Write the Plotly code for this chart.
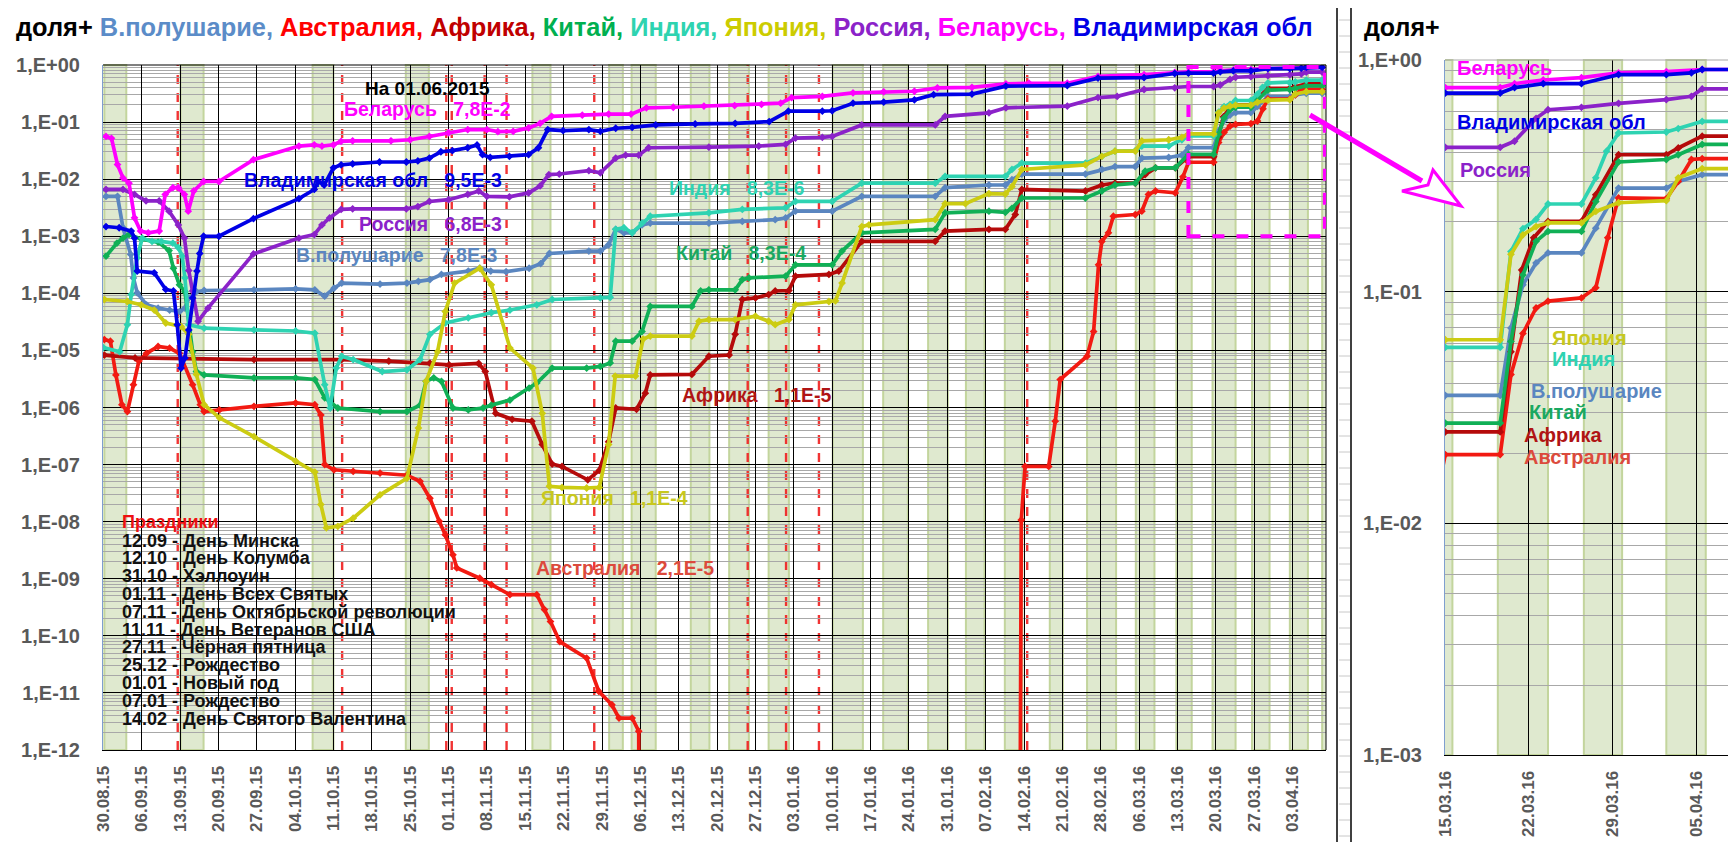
import pandas as pd
import plotly.graph_objects as go

START = "2015-08-30"   # day 0 of the series below

# ---- data: (days since 30.08.2015, share "доля+") ----
WH = [(0.5,5.0e-3),(2.6,5.0e-3),(3.6,1.41e-3),(5.0,4.8e-4),(5.5,1.86e-4),(6.2,1.02e-4),(7.9,6.3e-5),(10.0,5.5e-5),(12.1,5.1e-5),(13.9,4.8e-5),
      (14.9,5.5e-5),(15.6,8.3e-5),(17.0,1.07e-4),(18.4,1.12e-4),(27.5,1.15e-4),(35.1,1.20e-4),(38.6,1.15e-4),(40.4,8.9e-5),(42.1,1.23e-4),(43.5,1.51e-4),
      (50.5,1.45e-4),(55.4,1.51e-4),(57.5,1.62e-4),(59.6,1.74e-4),(61.7,2.14e-4),(66.6,2.45e-4),(68.7,2.75e-4),(70.7,2.45e-4),(73.5,2.40e-4),(77.7,2.75e-4),
      (79.8,3.31e-4),(81.4,5.0e-4),(88.6,5.5e-4),(90.7,5.5e-4),(92.2,7.1e-4),(93.5,1.32e-3),(95.0,1.15e-3),(96.5,1.15e-3),(98.3,1.58e-3),(99.8,1.70e-3),
      (110.5,1.70e-3),(116.6,1.82e-3),(122.6,1.95e-3),(124.5,2.09e-3),(126.3,2.75e-3),(133.0,2.75e-3),(138.4,5.0e-3),(151.8,5.0e-3),(153.6,7.1e-3),(161.6,7.9e-3),
      (164.6,7.9e-3),(165.8,9.8e-3),(167.6,1.23e-2),(179.2,1.23e-2),(182.2,1.48e-2),(184.6,1.66e-2),(188.3,1.66e-2),(189.5,2.34e-2),(194.4,2.40e-2),(196.8,2.63e-2),
      (198.0,3.57e-2),(202.6,3.57e-2),(203.5,6.97e-2),(204.5,1.07e-1),(205.6,1.33e-1),(206.6,1.47e-1),(209.4,1.47e-1),(210.6,1.88e-1),(212.5,2.80e-1),(216.5,2.80e-1),
      (217.5,2.99e-1),(219.5,3.20e-1),(222.4,3.20e-1)]

AU = [(0.2,1.55e-5),(1.3,1.45e-5),(2.3,3.72e-6),(3.4,1.12e-6),(4.4,8.5e-7),(5.5,2.51e-6),(6.5,6.5e-6),(7.9,8.9e-6),(10.0,1.17e-5),(12.1,1.10e-5),
      (13.9,8.9e-6),(16.3,2.51e-6),(17.7,1.12e-6),(18.4,8.5e-7),(21.2,9.1e-7),(27.5,1.05e-6),(35.1,1.20e-6),(38.6,1.12e-6),(39.7,7.4e-7),(40.4,1.0e-7),
      (42.1,8.1e-8),(45.6,7.6e-8),(50.5,7.1e-8),(55.4,6.5e-8),(57.8,5.1e-8),(59.6,2.57e-8),(61.3,1.02e-8),(62.4,5.9e-9),(63.8,2.63e-9),(64.5,1.55e-9),
      (68.7,1.02e-9),(70.8,7.9e-10),(74.2,5.25e-10),(79.1,5.25e-10),(80.5,2.88e-10),(81.6,1.78e-10),(83.3,7.9e-11),(88.2,4.07e-11),(90.4,1.07e-11),(92.8,6.2e-12),
      (94.1,3.63e-12),(96.5,3.63e-12),(97.7,2.14e-12),(97.9,1e-20),(167.0,1e-20),(167.5,1.07e-8),(168.2,9.3e-8),(172.5,9.3e-8),(173.7,5.75e-7),(174.6,3.09e-6),
      (179.5,7.9e-6),(180.7,2.14e-5),(181.6,3.16e-4),(182.2,8.1e-4),(183.4,1.15e-3),(184.3,2.24e-3),(188.3,2.40e-3),(189.5,2.75e-3),(190.7,5.4e-3),(192.0,6.2e-3),
      (195.6,5.75e-3),(197.0,1.1e-2),(198.0,1.98e-2),(202.6,1.98e-2),(203.5,4.39e-2),(204.5,6.6e-2),(205.6,8.5e-2),(206.6,9.1e-2),(209.4,9.4e-2),(210.6,1.04e-1),
      (211.6,1.71e-1),(212.5,2.54e-1),(216.5,2.52e-1),(217.5,2.99e-1),(218.6,3.72e-1),(219.5,3.75e-1),(222.4,3.75e-1)]

AF = [(0.2,8.3e-6),(5.8,7.4e-6),(27.5,6.9e-6),(43.5,6.9e-6),(52.1,6.5e-6),(59.6,6.0e-6),(63.1,5.6e-6),(68.5,5.9e-6),(69.7,4.27e-6),(71.6,7.9e-7),
      (74.6,6.2e-7),(78.2,5.75e-7),(80.1,2.24e-7),(81.9,1.02e-7),(83.7,9.3e-8),(88.4,5.4e-8),(90.5,7.9e-8),(92.2,2.51e-7),(93.5,9.8e-7),(97.3,9.3e-7),
      (98.9,1.78e-6),(99.8,3.72e-6),(107.4,3.80e-6),(110.5,7.9e-6),(114.2,8.3e-6),(115.3,1.91e-5),(116.6,7.8e-5),(119.0,8.3e-5),(121.4,9.5e-5),(122.6,1.10e-4),
      (125.1,1.12e-4),(126.3,2.0e-4),(132.4,2.14e-4),(134.2,2.45e-4),(138.4,8.1e-4),(151.8,8.1e-4),(153.6,1.23e-3),(161.6,1.32e-3),(164.6,1.32e-3),(166.4,2.40e-3),
      (167.6,6.6e-3),(179.2,6.2e-3),(182.2,7.9e-3),(184.6,8.5e-3),(188.3,8.5e-3),(190.1,1.20e-2),(192.0,1.58e-2),(195.6,1.58e-2),(198.0,2.48e-2),(202.6,2.48e-2),
      (203.5,5.5e-2),(204.4,1.24e-1),(205.4,1.71e-1),(206.6,2.01e-1),(209.4,2.01e-1),(210.6,2.62e-1),(212.5,3.90e-1),(216.5,3.90e-1),(217.5,4.17e-1),(219.5,4.69e-1),
      (222.4,4.69e-1)]

CN = [(0.5,4.47e-4),(2.5,7.6e-4),(3.6,9.3e-4),(4.7,1.07e-3),(7.0,8.9e-4),(10.0,7.9e-4),(12.0,5.6e-4),(12.8,2.75e-4),(13.9,1.41e-4),(14.9,1.07e-4),
      (16.3,9.5e-6),(17.0,4.27e-6),(18.4,3.72e-6),(27.5,3.31e-6),(35.1,3.31e-6),(38.6,3.09e-6),(40.4,1.48e-6),(42.8,9.8e-7),(50.5,8.5e-7),(55.4,8.5e-7),
      (57.8,1.10e-6),(58.9,2.88e-6),(60.3,3.31e-6),(61.7,2.88e-6),(63.8,9.8e-7),(66.6,9.1e-7),(69.3,9.8e-7),(70.8,1.10e-6),(74.2,1.35e-6),(77.7,2.19e-6),
      (79.1,2.69e-6),(81.9,4.9e-6),(88.2,4.9e-6),(90.7,5.25e-6),(92.5,6.03e-6),(93.5,1.45e-5),(96.5,1.45e-5),(98.3,2.14e-5),(99.8,5.9e-5),(107.4,5.9e-5),
      (109.0,1.10e-4),(110.5,1.15e-4),(115.3,1.15e-4),(116.6,1.74e-4),(117.8,1.86e-4),(124.5,2.0e-4),(126.3,3.16e-4),(133.0,3.16e-4),(134.8,5.5e-4),(138.4,1.15e-3),
      (151.8,1.32e-3),(153.6,2.57e-3),(161.6,2.75e-3),(164.6,2.63e-3),(165.8,3.09e-3),(167.6,4.68e-3),(179.2,4.68e-3),(182.2,6.2e-3),(184.6,7.9e-3),(188.3,8.5e-3),
      (190.1,1.38e-2),(192.0,1.58e-2),(195.6,1.58e-2),(198.0,2.71e-2),(202.6,2.71e-2),(203.5,6.1e-2),(204.5,1.18e-1),(205.6,1.65e-1),(206.6,1.82e-1),(209.4,1.82e-1),
      (210.6,2.45e-1),(212.5,3.63e-1),(216.5,3.72e-1),(217.5,3.90e-1),(219.5,4.32e-1),(222.4,4.32e-1)]

IN = [(0.0,1.12e-5),(3.0,9.5e-6),(4.4,2.82e-5),(5.1,9.5e-5),(6.2,4.17e-4),(7.1,9.3e-4),(8.9,8.1e-4),(10.6,8.1e-4),(12.7,7.6e-4),(13.7,6.3e-4),
      (14.4,4.47e-4),(14.9,1.86e-4),(15.6,2.82e-5),(18.4,2.45e-5),(27.5,2.29e-5),(35.1,2.19e-5),(38.6,2.0e-5),(40.4,2.51e-6),(41.4,9.8e-7),(42.5,4.9e-6),
      (43.5,7.9e-6),(45.6,6.9e-6),(50.9,4.27e-6),(55.4,4.57e-6),(57.8,6.9e-6),(59.6,1.91e-5),(62.4,3.02e-5),(66.6,3.72e-5),(70.8,4.57e-5),(74.2,5.1e-5),
      (79.1,6.3e-5),(81.9,7.8e-5),(90.7,8.3e-5),(92.5,8.5e-5),(93.5,1.32e-3),(95.0,1.41e-3),(96.5,1.15e-3),(98.3,1.70e-3),(99.8,2.24e-3),(110.5,2.57e-3),
      (116.6,2.95e-3),(124.5,3.16e-3),(126.3,4.07e-3),(133.0,4.07e-3),(138.4,8.5e-3),(151.8,8.5e-3),(153.6,1.12e-2),(164.6,1.12e-2),(165.8,1.48e-2),(167.6,1.91e-2),
      (179.2,1.91e-2),(182.2,2.51e-2),(184.6,3.09e-2),(188.3,3.16e-2),(189.5,3.80e-2),(194.4,3.80e-2),(196.8,4.9e-2),(198.0,5.75e-2),(202.6,5.75e-2),(203.5,1.49e-1),
      (204.5,1.87e-1),(205.6,2.05e-1),(206.6,2.39e-1),(209.4,2.39e-1),(210.6,3.10e-1),(211.5,4.04e-1),(212.5,4.84e-1),(216.5,4.89e-1),(217.5,5.06e-1),(219.5,5.43e-1),
      (222.4,5.43e-1)]

JP = [(0.2,7.8e-5),(4.4,7.2e-5),(6.9,6.3e-5),(9.3,5.1e-5),(11.4,3.02e-5),(14.2,2.63e-5),(15.6,1.91e-5),(17.0,3.80e-6),(18.4,1.12e-6),(21.2,6.6e-7),
      (27.5,3.09e-7),(35.1,1.15e-7),(38.6,7.4e-8),(39.7,2.0e-8),(40.7,7.8e-9),(42.8,8.3e-9),(45.6,1.15e-8),(50.5,2.95e-8),(55.4,5.75e-8),(57.5,4.37e-7),
      (58.9,2.88e-6),(61.0,9.5e-6),(62.4,4.79e-5),(64.1,1.51e-4),(68.7,2.75e-4),(70.8,1.41e-4),(74.2,1.10e-5),(78.4,4.9e-6),(80.1,7.9e-7),(81.4,4.17e-8),
      (83.7,3.98e-8),(88.2,3.89e-8),(90.5,3.98e-8),(92.2,2.24e-7),(93.4,3.55e-6),(97.1,3.55e-6),(98.5,1.58e-5),(99.8,1.78e-5),(107.4,1.78e-5),(108.7,3.24e-5),
      (110.5,3.47e-5),(115.3,3.47e-5),(119.0,3.98e-5),(121.4,3.24e-5),(122.6,2.82e-5),(125.1,3.47e-5),(126.3,6.3e-5),(132.4,7.2e-5),(133.6,7.4e-5),(134.8,1.51e-4),
      (138.4,1.48e-3),(139.7,1.58e-3),(151.8,1.95e-3),(153.6,3.72e-3),(157.3,3.72e-3),(161.6,5.6e-3),(164.6,5.5e-3),(165.8,7.4e-3),(167.6,1.48e-2),(179.2,1.78e-2),
      (182.2,2.51e-2),(184.6,3.09e-2),(188.3,3.09e-2),(189.5,4.68e-2),(194.4,4.9e-2),(196.8,5.4e-2),(198.0,6.2e-2),(202.6,6.2e-2),(203.5,1.45e-1),(204.5,1.76e-1),
      (205.6,1.91e-1),(206.6,1.98e-1),(209.4,1.98e-1),(210.6,2.22e-1),(212.5,2.42e-1),(216.5,2.47e-1),(217.5,3.10e-1),(219.5,3.40e-1),(222.4,3.40e-1)]

RU = [(0.5,6.6e-3),(3.6,6.6e-3),(5.7,5.4e-3),(7.8,4.17e-3),(10.2,4.17e-3),(12.0,2.75e-3),(13.7,1.58e-3),(14.8,9.3e-4),(15.6,2.5e-4),(16.3,1.10e-4),
      (17.3,3.24e-5),(19.1,5.5e-5),(27.4,4.9e-4),(35.7,9.3e-4),(38.5,1.07e-3),(39.9,1.58e-3),(41.3,2.09e-3),(43.4,2.95e-3),(45.5,3.02e-3),(55.3,3.02e-3),
      (57.4,3.31e-3),(59.5,4.07e-3),(63.0,4.37e-3),(66.5,5.4e-3),(68.5,6.2e-3),(70.0,5.0e-3),(74.1,4.9e-3),(77.6,5.75e-3),(79.7,7.6e-3),(81.3,1.20e-2),
      (83.2,1.23e-2),(88.6,1.41e-2),(90.7,1.29e-2),(93.5,2.34e-2),(95.3,2.63e-2),(97.7,2.63e-2),(99.5,3.55e-2),(110.5,3.63e-2),(119.6,3.80e-2),(124.5,4.07e-2),
      (126.3,5.25e-2),(131.2,5.4e-2),(133.0,5.6e-2),(138.4,8.9e-2),(151.8,8.9e-2),(153.6,1.26e-1),(161.6,1.45e-1),(164.7,1.78e-1),(175.9,1.91e-1),(181.5,2.69e-1),
      (185.0,2.82e-1),(189.9,3.72e-1),(195.5,3.98e-1),(198.0,4.2e-1),(202.6,4.2e-1),(203.8,4.46e-1),(205.6,5.6e-1),(206.6,6.1e-1),(209.4,6.25e-1),(212.5,6.5e-1),
      (216.5,6.75e-1),(218.6,6.97e-1),(219.5,7.5e-1),(222.4,7.5e-1)]

BY = [(0.5,5.6e-2),(1.5,5.2e-2),(2.6,1.8e-2),(3.6,1.05e-2),(4.7,8.5e-3),(5.7,2.1e-3),(6.8,1.23e-3),(8.2,1.15e-3),(10.2,1.23e-3),(11.3,5.4e-3),
      (12.7,7.1e-3),(13.7,7.1e-3),(14.8,5.4e-3),(15.5,2.75e-3),(16.5,6.2e-3),(18.3,9.1e-3),(21.1,9.1e-3),(27.4,2.2e-2),(35.7,3.8e-2),(38.5,4.0e-2),
      (39.9,3.8e-2),(42.0,4.0e-2),(43.4,4.6e-2),(45.5,4.7e-2),(52.5,4.7e-2),(56.0,4.9e-2),(59.5,5.6e-2),(63.0,6.5e-2),(66.5,7.4e-2),(70.0,7.4e-2),
      (72.0,6.8e-2),(74.8,6.9e-2),(77.6,7.9e-2),(79.7,9.5e-2),(81.8,1.26e-1),(87.4,1.32e-1),(92.2,1.38e-1),(96.3,1.38e-1),(99.1,1.78e-1),(104.0,1.82e-1),
      (109.6,1.91e-1),(115.2,1.95e-1),(120.1,2.04e-1),(123.6,2.14e-1),(125.6,2.69e-1),(131.2,2.82e-1),(136.8,3.24e-1),(142.4,3.39e-1),(148.0,3.47e-1),(152.2,3.98e-1),
      (158.5,4.07e-1),(164.7,4.68e-1),(168.9,4.79e-1),(175.9,4.79e-1),(181.5,6.31e-1),(189.9,6.76e-1),(195.5,7.4e-1),(198.0,7.6e-1),(202.6,7.6e-1),(203.8,7.9e-1),
      (206.2,8.2e-1),(209.4,8.4e-1),(212.5,8.8e-1),(216.5,8.9e-1),(219.5,9.1e-1),(222.4,9.1e-1)]

VL = [(0.5,1.48e-3),(2.9,1.41e-3),(5.1,1.23e-3),(5.7,9.3e-4),(6.2,2.45e-4),(9.3,2.29e-4),(11.4,1.17e-4),(12.8,1.10e-4),(13.5,2.82e-5),(14.2,4.9e-6),
      (14.9,7.4e-6),(15.6,2.29e-5),(16.3,8.3e-5),(17.1,2.45e-4),(17.6,5.0e-4),(18.3,1.0e-3),(21.1,1.0e-3),(27.4,2.04e-3),(35.7,4.57e-3),(38.5,6.6e-3),
      (39.2,9.1e-3),(40.3,7.9e-3),(42.0,1.58e-2),(43.4,1.78e-2),(45.5,1.86e-2),(50.4,2.0e-2),(55.3,2.0e-2),(57.4,2.09e-2),(59.5,2.34e-2),(61.6,3.02e-2),
      (63.7,3.16e-2),(66.5,3.55e-2),(68.2,3.98e-2),(69.2,2.69e-2),(70.6,2.40e-2),(74.1,2.51e-2),(77.6,2.69e-2),(79.4,3.55e-2),(81.1,7.4e-2),(83.9,7.1e-2),
      (88.6,7.4e-2),(90.7,6.9e-2),(93.5,7.8e-2),(96.5,8.1e-2),(100.8,8.9e-2),(108.0,9.3e-2),(115.3,9.5e-2),(121.5,1.02e-1),(125.0,1.55e-1),(131.2,1.55e-1),
      (133.0,1.58e-1),(136.8,2.14e-1),(142.4,2.24e-1),(148.0,2.45e-1),(151.5,3.02e-1),(158.5,3.09e-1),(164.7,4.27e-1),(175.9,4.37e-1),(181.5,5.89e-1),(189.9,6.03e-1),
      (195.5,7.1e-1),(198.0,7.2e-1),(202.6,7.2e-1),(203.8,7.6e-1),(206.2,7.9e-1),(209.4,7.9e-1),(212.5,8.65e-1),(216.5,8.65e-1),(218.6,8.8e-1),(219.5,9.1e-1),
      (222.4,9.1e-1)]

# drawing order as in the source (later = on top)
SERIES_NAMES = ["В.полушарие", "Австралия", "Африка", "Китай", "Индия", "Япония", "Россия", "Беларусь", "Владимирская обл"]
SERIES_DATA = [WH, AU, AF, CN, IN, JP, RU, BY, VL]
SERIES_COLORS = ["#5a86c0", "#f21a12", "#b50a0a", "#10b056", "#2ed3b2", "#cccc12", "#8b22c9", "#ff00ff", "#0000e6"]
TITLE_COLORS = ["#5b8cc8", "#ff0000", "#c00000", "#00b050", "#2ed3b0", "#cccc00", "#8b22c9", "#ff00ff", "#0000e6"]

# labels printed on the main chart (name, value on 01.06.2015)
MAIN_LABEL_TEXT = {"Беларусь": "7,8E-2", "Владимирская обл": "9,5E-3", "Россия": "6,8E-3",
                   "В.полушарие": "7,8E-3", "Индия": "8,3E-6", "Китай": "8,3E-4",
                   "Африка": "1,1E-5", "Япония": "1,1E-4", "Австралия": "2,1E-5"}

HOLIDAY_DATES = ["2015-09-12", "2015-10-12", "2015-10-31", "2015-11-01", "2015-11-07", "2015-11-11",
                 "2015-11-27", "2015-12-25", "2016-01-01", "2016-01-07", "2016-02-14"]
HOLIDAY_NAMES = ["День Минска", "День Колумба", "Хэллоуин", "День Всех Святых", "День Октябрьской революции",
                 "День Ветеранов США", "Чёрная пятница", "Рождество", "Новый год", "Рождество", "День Святого Валентина"]

# shaded (green) periods, days since 30.08.2015
BAND_START = [0.2, 14.1, 38.2, 55.2, 78.3, 92.3, 96.4, 107.2, 114.2, 121.4, 133.1, 142.3, 150.5, 157.4,
              164.5, 172.7, 179.5, 188.4, 195.8, 202.4, 209.6, 216.5, 222.4]
BAND_END = [4.2, 18.3, 42.0, 59.4, 81.6, 94.8, 100.8, 110.6, 117.8, 125.1, 138.6, 146.8, 154.1, 160.8,
            167.7, 175.1, 184.8, 191.8, 198.6, 206.6, 212.8, 219.8, 226.0]

# ---------------------------------------------------------------------------
W, H = 1736, 842
FONT = "Liberation Sans, Arial, sans-serif"
GRAY = "#595959"
T0 = pd.Timestamp(START)


def dt(days):
    return T0 + pd.to_timedelta(days, unit="D")


def dts(days):
    return dt(days).strftime("%Y-%m-%d %H:%M:%S")


def fx(px):
    return px / W


def fy(py):
    return 1 - py / H


fig = go.Figure()

for name, data, col in zip(SERIES_NAMES, SERIES_DATA, SERIES_COLORS):
    xs = [dt(d) for d, _ in data]
    ys = [v for _, v in data]
    for xa, ya in (("x", "y"), ("x2", "y2")):
        fig.add_trace(go.Scatter(
            x=xs, y=ys, xaxis=xa, yaxis=ya, name=name, mode="lines+markers",
            line=dict(color=col, width=3.7), marker=dict(symbol="diamond", size=6, color=col),
            showlegend=False, hoverinfo="skip"))

main_dec = list(range(-12, 1))
main_tv = [10.0 ** e for e in main_dec]
main_tt = [f"1,E{e:+03d}" for e in main_dec]
main_minor = [k * 10.0 ** e for e in range(-12, 0) for k in range(2, 10)]
r_dec = list(range(-3, 1))
r_tv = [10.0 ** e for e in r_dec]
r_tt = [f"1,E{e:+03d}" for e in r_dec]
r_minor = [k * 10.0 ** e for e in range(-3, 0) for k in range(2, 10)]

xtickfont = dict(family=FONT, size=17, color=GRAY, weight="bold")
ytickfont = dict(family=FONT, size=20, color=GRAY, weight="bold")
WEEK = 7 * 86400000

common_x = dict(type="date", dtick=WEEK, tickformat="%d.%m.%y", tickangle=-90, tickfont=xtickfont,
                showgrid=True, gridcolor="black", gridwidth=1, showline=True, linecolor="black",
                linewidth=1, ticks="", ticklabelstandoff=8, zeroline=False, automargin=False)
common_y = dict(type="log", tickfont=ytickfont, showgrid=True, gridcolor="black", gridwidth=1,
                showline=True, linecolor="#7f9fcf", linewidth=1, ticks="", ticklabelstandoff=18,
                zeroline=False, automargin=False)

fig.update_layout(
    width=W, height=H, margin=dict(l=0, r=0, t=0, b=0, autoexpand=False),
    paper_bgcolor="white", plot_bgcolor="white", showlegend=False,
    xaxis=dict(common_x, domain=[fx(95), fx(1318)], range=[dts(-0.05), dts(223.1)], tick0=START, anchor="y"),
    yaxis=dict(common_y, domain=[fy(742), fy(57)], range=[-12, 0], tickvals=main_tv, ticktext=main_tt,
               minor=dict(tickvals=main_minor, showgrid=True, gridcolor="#a8a8a8", gridwidth=1, ticks=""),
               anchor="x"),
    xaxis2=dict(common_x, domain=[fx(1437), 1.0], range=[dts(197.98), dts(223)], tick0="2016-03-15", anchor="y2"),
    yaxis2=dict(common_y, domain=[fy(747), fy(52)], range=[-3, 0], tickvals=r_tv, ticktext=r_tt,
                minor=dict(tickvals=r_minor, showgrid=True, gridcolor="#a8a8a8", gridwidth=1, ticks=""),
                anchor="x2"),
)

shapes = []
# green shaded periods in both panels
for s, e in zip(BAND_START, BAND_END):
    for xr, yr in (("x", "y domain"), ("x2", "y2 domain")):
        shapes.append(dict(type="rect", xref=xr, yref=yr, x0=dts(s), x1=dts(e), y0=0, y1=1,
                           fillcolor="#dfe9cf", line=dict(color="#c3d59d", width=2), layer="below"))
# holiday lines
for d in HOLIDAY_DATES:
    x = (pd.Timestamp(d) + pd.Timedelta(hours=14)).strftime("%Y-%m-%d %H:%M:%S")
    shapes.append(dict(type="line", xref="x", yref="y domain", x0=x, x1=x, y0=0, y1=1,
                       line=dict(color="rgba(240,30,30,0.9)", width=2.4, dash="dash"), layer="below"))
# borders
shapes.append(dict(type="line", xref="x domain", yref="y domain", x0=1, x1=1, y0=0, y1=1,
                   line=dict(color="black", width=1)))
shapes.append(dict(type="line", xref="x domain", yref="y domain", x0=0, x1=1, y0=1, y1=1,
                   line=dict(color="black", width=1)))
shapes.append(dict(type="line", xref="x2 domain", yref="y2 domain", x0=0, x1=1, y0=1, y1=1,
                   line=dict(color="#a8a8a8", width=1)))
# magenta zoom box
shapes.append(dict(type="rect", xref="x", yref="y domain", x0=dts(198), x1=dts(222.9), y0=0.75, y1=0.997,
                   line=dict(color="#ff00ff", width=4, dash="dash"), fillcolor="rgba(0,0,0,0)"))
# separators between panels
for px in (1329, 1343):
    shapes.append(dict(type="line", xref="paper", yref="paper", x0=fx(px), x1=fx(px), y0=0, y1=1,
                       line=dict(color="black", width=1.5)))
for py in range(12, H, 16):
    shapes.append(dict(type="line", xref="paper", yref="paper", x0=fx(1331), x1=fx(1342), y0=fy(py), y1=fy(py),
                       line=dict(color="#c8c8c8", width=1)))
# magenta arrow
shapes.append(dict(type="line", xref="paper", yref="paper", x0=fx(1302), y0=fy(107), x1=fx(1414), y1=fy(173),
                   line=dict(color="#ff00ff", width=5)))
head = [(1453, 198), (1394, 183), (1420, 177), (1425, 162)]
path = "M " + " L ".join(f"{fx(a):.5f},{fy(b):.5f}" for a, b in head) + " Z"
shapes.append(dict(type="path", xref="paper", yref="paper", path=path, fillcolor="white",
                   line=dict(color="#ff00ff", width=3)))
fig.update_layout(shapes=shapes)

NB = "\u00a0"
ann = []


def label(text, px, py, color, size=20, anchor="left"):
    ann.append(dict(text=text, x=fx(px), y=fy(py), xref="paper", yref="paper", xanchor=anchor,
                    yanchor="middle", showarrow=False, borderpad=0,
                    font=dict(family=FONT, size=size, color=color, weight="bold")))


# title
parts = ['<span style="color:#000000">доля+</span>']
for i, (n, c) in enumerate(zip(SERIES_NAMES, TITLE_COLORS)):
    sep = "," if i < len(SERIES_NAMES) - 1 else ""
    parts.append(f'<span style="color:{c}">{n}{sep}</span>')
label(" ".join(parts), 7, 19, "black", size=25.4)
label("доля+", 1355, 19, "black", size=25)

# main chart labels
main_pos = {"Беларусь": (335, 101), "Владимирская обл": (235, 172), "Россия": (350, 216),
            "В.полушарие": (287, 247), "Индия": (660, 180), "Китай": (667, 245),
            "Африка": (673, 387), "Япония": (532, 490), "Австралия": (527, 560)}
label_colors = dict(zip(SERIES_NAMES, ["#5a86c0", "#dc4a3c", "#b01414", "#1aa860", "#2ed3b2",
                                      "#c8c81e", "#8b22c9", "#ff00ff", "#0000e6"]))
label("На 01.06.2015", 356, 81, "black", size=19)
for n, v in MAIN_LABEL_TEXT.items():
    px, py = main_pos[n]
    label(n + NB * 3 + v, px, py, label_colors[n], size=19.5)

# holidays
label("Праздники", 113, 514, "#ee1111", size=18)
for i, (d, n) in enumerate(zip(HOLIDAY_DATES, HOLIDAY_NAMES)):
    dd = pd.Timestamp(d)
    label(f"{dd:%d.%m} - {n}", 113, 532.5 + 17.8 * i, "#111111", size=18)

# right panel labels
right_pos = {"Беларусь": (1448, 60), "Владимирская обл": (1448, 114), "Россия": (1451, 162),
             "Япония": (1543, 330), "Индия": (1543, 351), "В.полушарие": (1522, 383),
             "Китай": (1520, 404), "Африка": (1515, 427), "Австралия": (1515, 449)}
for n, (px, py) in right_pos.items():
    label(n, px, py, label_colors[n], size=20)

fig.update_layout(annotations=ann)
fig.write_html("out.html")
